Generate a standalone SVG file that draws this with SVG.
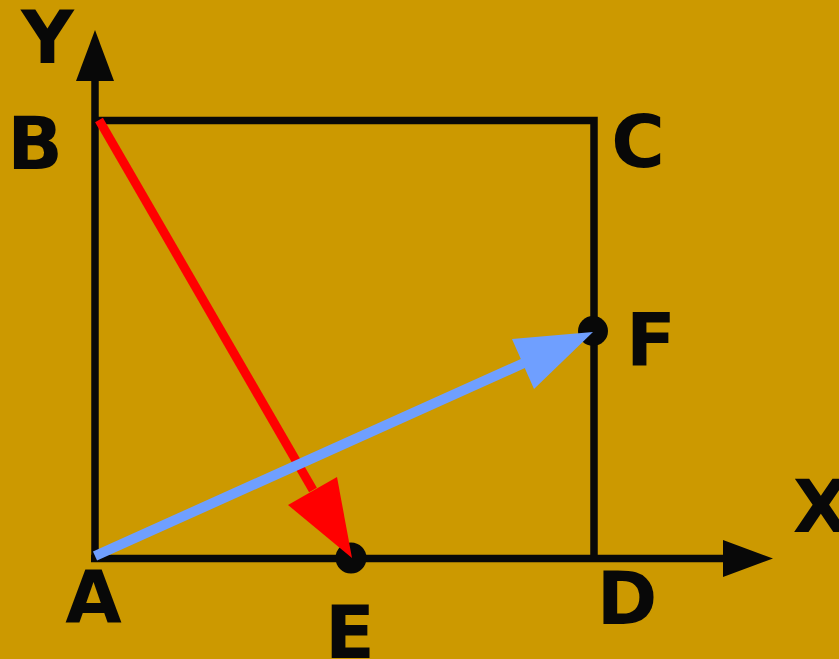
<svg xmlns="http://www.w3.org/2000/svg" width="839" height="659" viewBox="0 0 839 659">
<style>
.lbl{font-family:"DejaVu Sans","Liberation Sans",sans-serif;font-weight:bold;font-size:73px;fill:#080808;text-anchor:middle}
.blk{stroke:#080808;stroke-width:7.5;fill:none}
.dot{fill:#080808}
</style>
<rect width="839" height="659" fill="#cc9900"/>
<g id="square">
<path class="blk" d="M95,120.5 H594 V558"/>
</g>
<g id="axes">
<path class="blk" d="M95,558 V78"/>
<polygon class="dot" points="95,30 76,81 114,81"/>
<path class="blk" d="M91,558.5 H725"/>
<polygon class="dot" points="773,558.5 723,540 723,577"/>
</g>
<g id="dotE"><circle class="dot" cx="351" cy="558" r="15.5"/></g>
<g id="dotF"><circle class="dot" cx="593" cy="331" r="15"/></g>
<g id="connectors">
<g id="BE">
<path d="M99,120 L313,490" stroke="#ff0000" stroke-width="9" fill="none"/>
<polygon points="352,558 288,505 337,477" fill="#ff0000"/>
</g>
<g id="AF">
<path d="M95,556 L524,363" stroke="#6f9fff" stroke-width="10" fill="none"/>
<polygon points="593,332 512,339 534,389" fill="#6f9fff"/>
</g>
</g>
<g id="labels">
<text class="lbl" x="47.5" y="63">Y</text>
<text class="lbl" x="35" y="169">B</text>
<text class="lbl" x="638" y="167">C</text>
<text class="lbl" x="651" y="366">F</text>
<text class="lbl" x="821" y="532">X</text>
<text class="lbl" x="627" y="624">D</text>
<text class="lbl" x="93.5" y="623">A</text>
<text class="lbl" x="350" y="658">E</text>
</g>
</svg>
